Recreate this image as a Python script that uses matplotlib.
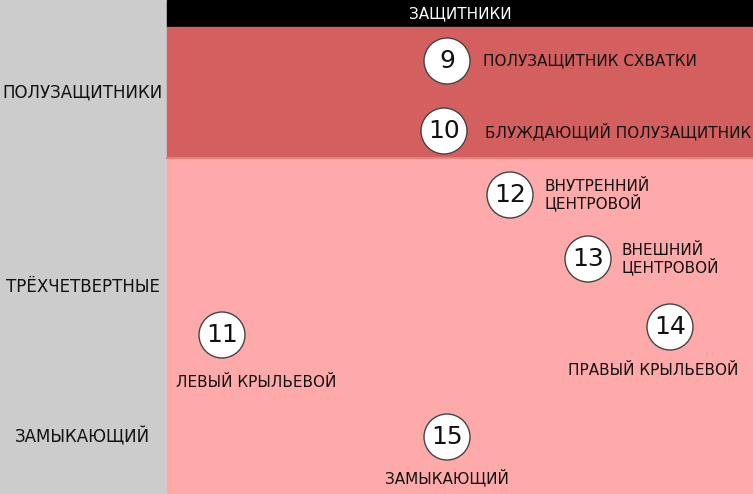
import matplotlib
matplotlib.use("Agg")
import matplotlib.pyplot as plt
from matplotlib.patches import Rectangle, Circle

W, H = 753, 494
numbers = [9, 10, 12, 13, 11, 14, 15]
cx = [447, 444, 510, 588, 222, 670, 447]
cy = [61, 131, 195, 259, 335, 327, 437]
labels = ["ПОЛУЗАЩИТНИК СХВАТКИ", "БЛУЖДАЮЩИЙ ПОЛУЗАЩИТНИК", "ВНУТРЕННИЙ\nЦЕНТРОВОЙ",
          "ВНЕШНИЙ\nЦЕНТРОВОЙ", "ЛЕВЫЙ КРЫЛЬЕВОЙ", "ПРАВЫЙ КРЫЛЬЕВОЙ", "ЗАМЫКАЮЩИЙ"]
lx = [483, 485, 545, 622, 256, 653, 447]
ly = [61, 131, 195, 259, 382, 370, 477]
lha = ["left", "left", "left", "left", "center", "center", "center"]
groups = ["ПОЛУЗАЩИТНИКИ", "ТРЁХЧЕТВЕРТНЫЕ", "ЗАМЫКАЮЩИЙ"]
gy = [92, 287, 437]

plt.rcParams['font.family'] = ['Liberation Sans Narrow', 'DejaVu Sans']
fig = plt.figure(figsize=(W/100, H/100), dpi=100)
ax = fig.add_axes([0, 0, 1, 1])
ax.set_xlim(0, W); ax.set_ylim(H, 0); ax.axis("off")

ax.add_patch(Rectangle((0, 0), 167, H, color="#cccccc"))
ax.add_patch(Rectangle((167, 0), W-167, 27, color="#000000"))
ax.add_patch(Rectangle((167, 27), W-167, 131, color="#d45f5f"))
ax.add_patch(Rectangle((167, 158), W-167, H-158, color="#ffaaaa"))
ax.plot([167, W], [158, 158], color="#e88080", lw=1.5)
ax.text(460, 14, "ЗАЩИТНИКИ", color="white", ha="center", va="center", fontsize=11)
for g, y in zip(groups, gy):
    ax.text(83, y, g, ha="center", va="center", fontsize=12, color="#111111")
for n, x, y in zip(numbers, cx, cy):
    ax.add_patch(Circle((x, y), 23, facecolor="white", edgecolor="#444444", lw=1))
    ax.text(x, y, str(n), ha="center", va="center", fontsize=18, color="#111111")
for t, x, y, ha in zip(labels, lx, ly, lha):
    ax.text(x, y, t, ha=ha, va="center", fontsize=11, color="#111111", linespacing=1.0)
fig.savefig("out.png", dpi=100)
